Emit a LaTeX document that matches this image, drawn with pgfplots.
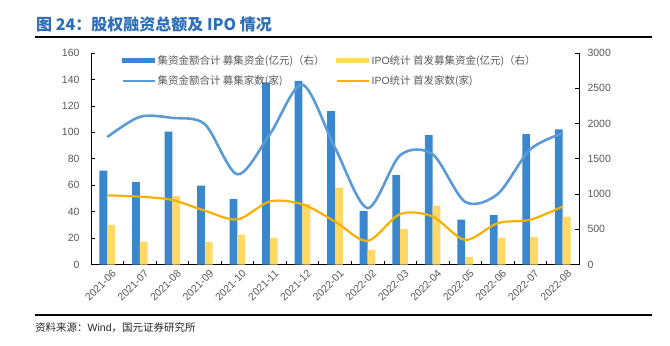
\documentclass[border=0pt]{standalone}
\usepackage{fontspec}
\setmainfont{Liberation Sans}
\newfontfamily\cjk{Noto Sans CJK SC}
\usepackage{pgfplots}
\usepackage{pgfplotstable}
\pgfplotsset{compat=1.18}
\definecolor{titleblue}{RGB}{46,110,181}
\definecolor{barblue}{RGB}{58,135,205}
\definecolor{baryellow}{RGB}{255,217,102}
\definecolor{lineblue}{RGB}{91,155,213}
\definecolor{lineorange}{RGB}{245,176,0}
\definecolor{txtgray}{RGB}{89,89,89}
\pgfplotstableread{
x amt ipoamt cnt ipocnt
0 71.0 30.1 1808 982
1 62.5 17.4 2095 963
2 100.5 51.9 2080 916
3 59.7 17.0 1990 764
4 49.6 22.7 1280 640
5 137.8 20.4 1850 896
6 139.0 46.0 2550 855
7 116.0 58.2 1657 611
8 40.7 11.1 802 336
9 67.6 26.8 1550 717
10 97.9 44.5 1565 682
11 34.1 5.8 890 350
12 37.5 20.2 1000 588
13 98.7 20.7 1633 635
14 102.3 36.2 1861 825
}\data
\begin{document}
\begin{tikzpicture}
\useasboundingbox (0,0) rectangle (670bp,346bp);
\node[anchor=west, inner sep=0pt, text=titleblue, font=\cjk\bfseries\fontsize{16bp}{19bp}\selectfont] at (36bp,321.7bp) {图 24：股权融资总额及 IPO 情况};
\draw[black, line width=1.6bp] (35bp,308.7bp) -- (652bp,308.7bp);
\draw[black, line width=1.6bp] (35bp,31bp) -- (652bp,31bp);
\node[anchor=west, inner sep=0pt, text=black!85, font=\cjk\fontsize{10.5bp}{12bp}\selectfont] at (35bp,18bp) {资料来源：{\rmfamily Wind}，国元证券研究所};

\begin{axis}[
  at={(91bp,81.4bp)}, anchor=south west, scale only axis,
  width=488bp, height=211.6bp,
  xmin=-0.5, xmax=14.5, ymin=0, ymax=160,
  axis x line*=bottom, axis y line*=left,
  axis line style={-, black, line width=0.8bp},
  ytick={0,20,...,160},
  xtick={0,...,14},
  xticklabels={2021-06,2021-07,2021-08,2021-09,2021-10,2021-11,2021-12,2022-01,2022-02,2022-03,2022-04,2022-05,2022-06,2022-07,2022-08},
  major x tick style={draw=none},
  minor xtick={-0.5,0.5,1.5,2.5,3.5,4.5,5.5,6.5,7.5,8.5,9.5,10.5,11.5,12.5,13.5,14.5},
  tick style={black, line width=0.6bp},
  major tick length=4bp, minor tick length=4bp,
  /pgf/number format/assume math mode=true,
  /pgf/number format/1000 sep={},
  yticklabel style={font=\fontsize{10.5bp}{12bp}\selectfont, text=txtgray, xshift=-8bp},
  xticklabel style={font=\fontsize{10.5bp}{12bp}\selectfont, text=txtgray, rotate=45, anchor=north east, inner sep=1bp, yshift=-5bp, xshift=1bp},
  legend columns=2,
  legend cell align=left,
  legend style={at={(0.062,1.0)}, anchor=north west, draw=none, fill=none,
    font=\cjk\fontsize{10.5bp}{12bp}\selectfont, text=txtgray,
    /tikz/every even column/.append style={column sep=9bp},
    row sep=6bp, inner sep=0pt},
]
\addplot[ybar, bar width=7.8bp, bar shift=-3.9bp, fill=barblue, draw=none, forget plot] table[x=x,y=amt]{\data};
\addplot[ybar, bar width=7.8bp, bar shift=3.9bp, fill=baryellow, draw=none, forget plot] table[x=x,y=ipoamt]{\data};
\addlegendimage{legend image code/.code={\fill[barblue] (0bp,-2.2bp) rectangle (32bp,2.2bp);}}
\addlegendentry{集资金额合计 募集资金(亿元)（右）}
\addlegendimage{legend image code/.code={\fill[baryellow] (0bp,-2.2bp) rectangle (32bp,2.2bp);}}
\addlegendentry{{\rmfamily IPO}统计 首发募集资金(亿元)（右）}
\addlegendimage{legend image code/.code={\draw[lineblue, line width=2.2bp] (0bp,0bp) -- (32bp,0bp);}}
\addlegendentry{集资金额合计 募集家数(家)}
\addlegendimage{legend image code/.code={\draw[lineorange, line width=2bp] (0bp,0bp) -- (32bp,0bp);}}
\addlegendentry{{\rmfamily IPO}统计 首发家数(家)}
\end{axis}

\begin{axis}[
  at={(91bp,81.4bp)}, anchor=south west, scale only axis,
  width=488bp, height=211.6bp,
  xmin=-0.5, xmax=14.5, ymin=0, ymax=3000,
  axis y line*=right, axis x line=none,
  axis line style={-, black, line width=0.8bp},
  ytick={0,500,...,3000},
  tick style={black, line width=0.6bp},
  major tick length=4bp,
  /pgf/number format/assume math mode=true,
  /pgf/number format/1000 sep={},
  yticklabel style={font=\fontsize{10.5bp}{12bp}\selectfont, text=txtgray, xshift=5bp},
]
\addplot[lineblue, line width=2.6bp, smooth, tension=0.5, mark=none] table[x=x,y=cnt]{\data};
\addplot[lineorange, line width=2.2bp, smooth, tension=0.5, mark=none] table[x=x,y=ipocnt]{\data};
\end{axis}
\end{tikzpicture}
\end{document}
